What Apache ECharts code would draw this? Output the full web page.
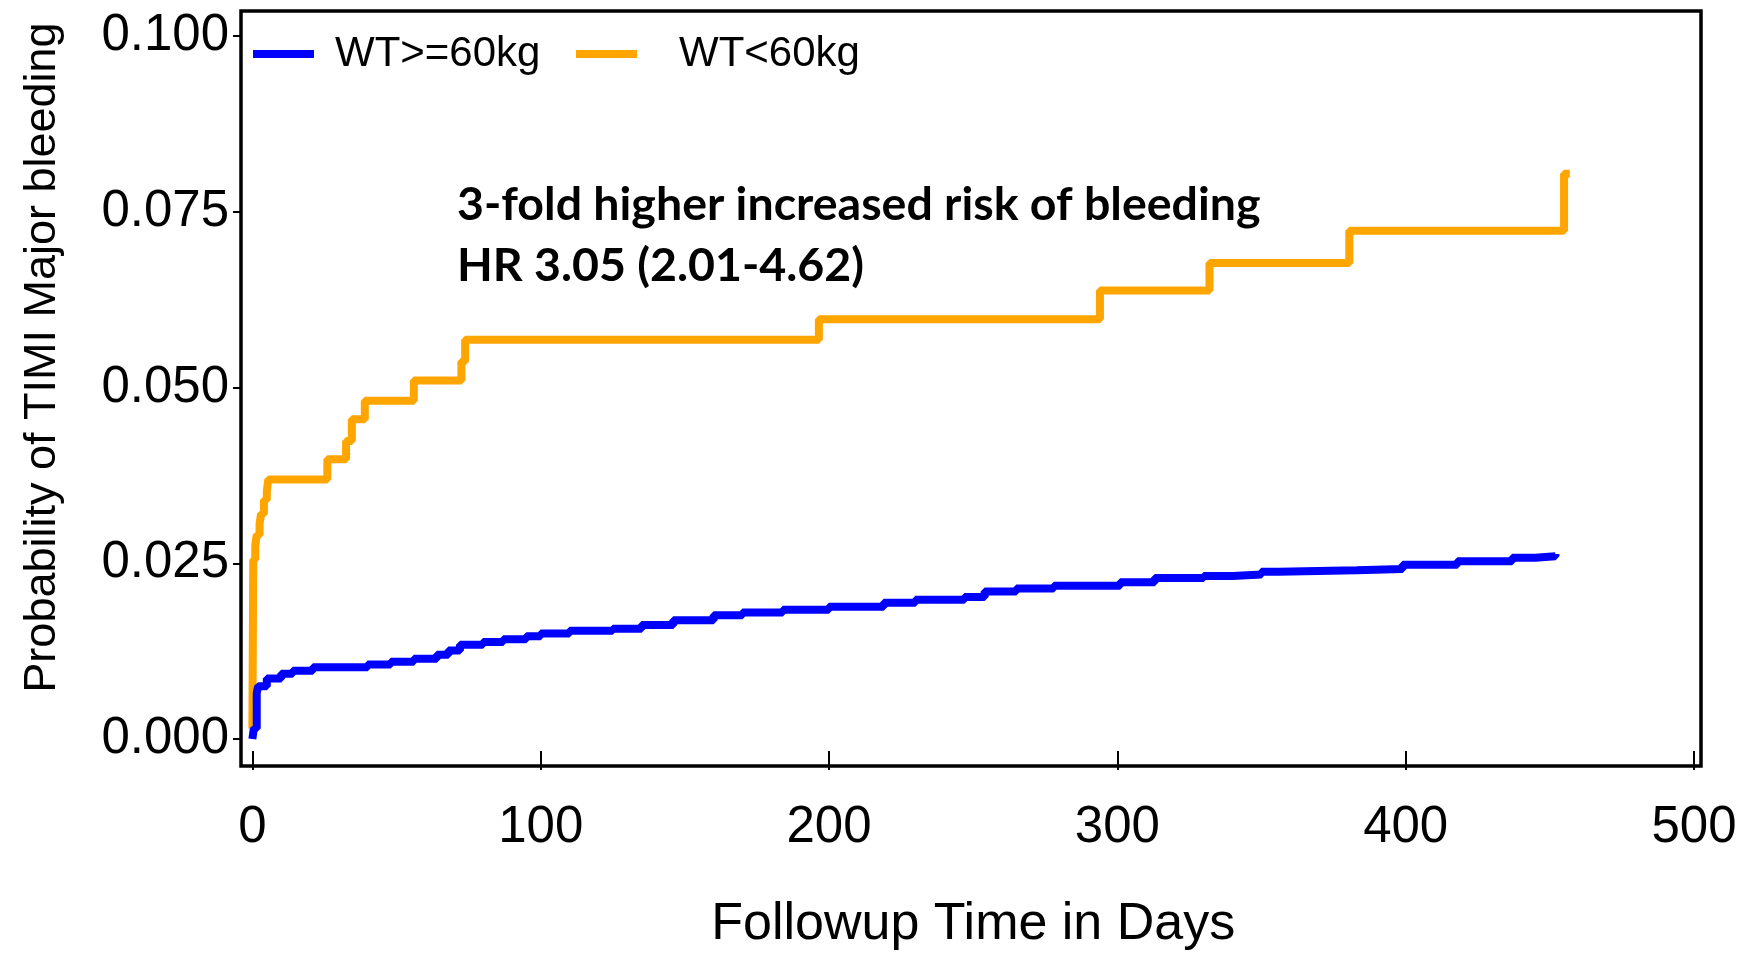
<!DOCTYPE html>
<html>
<head>
<meta charset="utf-8">
<script src="https://cdn.jsdelivr.net/npm/echarts@6/dist/echarts.min.js"></script>
<style>
html,body{margin:0;padding:0;background:#fff;}
#chart{width:1751px;height:956px;}
</style>
</head>
<body>
<div id="chart"></div>
<script>
// ---- data ----
const seriesNames = ['WT>=60kg', 'WT<60kg'];
// [day, cumulative probability] at each step
const wtHigh = [
  [0, 0.0], [0.5, 0.0015], [1.5, 0.0065], [2, 0.0075], [5, 0.0086], [10, 0.0093], [14, 0.0097],
  [21, 0.0102], [40, 0.0106], [48, 0.011], [56, 0.0114], [64, 0.012], [68, 0.0126], [72, 0.0134],
  [80, 0.0138], [87, 0.0142], [95, 0.0146], [100, 0.015], [110, 0.0154], [125, 0.0157], [135, 0.0162],
  [146, 0.0169], [160, 0.0176], [170, 0.018], [184, 0.0184], [200, 0.0188], [219, 0.0194], [230, 0.0198],
  [247, 0.0202], [254, 0.021], [265, 0.0214], [278, 0.0218], [301, 0.0223], [313, 0.0229], [330, 0.0232],
  [340, 0.0234], [350, 0.0238], [356, 0.024], [383, 0.0242], [399, 0.0248], [418, 0.0253], [437, 0.0258],
  [445, 0.026], [452, 0.0263]
];
const wtLow = [
  [0, 0.0015], [0.3, 0.0255], [1, 0.0275], [1.5, 0.029], [2.5, 0.0306], [3, 0.032], [4, 0.034],
  [5, 0.0352], [5.5, 0.0369], [26, 0.0398], [32.5, 0.0424], [34.5, 0.0455], [39, 0.0481], [56, 0.051],
  [72.5, 0.0537], [73.8, 0.0568], [196.5, 0.0597], [294, 0.0638], [332, 0.0677], [380.5, 0.0723],
  [455, 0.0804], [457, 0.0804]
];
const xTicks = [0, 100, 200, 300, 400, 500];
const yTicks = [0.000, 0.025, 0.050, 0.075, 0.100];
const xTitle = 'Followup Time in Days';
const yTitle = 'Probability of TIMI Major bleeding';
const noteLines = ['3-fold higher increased risk of bleeding', 'HR 3.05 (2.01-4.62)'];

// ---- chart ----
const chart = echarts.init(document.getElementById('chart'), null, {renderer: 'canvas'});
const FONT = '"Liberation Sans", Arial, sans-serif';
const option = {
  animation: false,
  backgroundColor: '#ffffff',
  grid: [
    {left: 241, right: 50, top: 11, bottom: 190, show: true, borderColor: '#000', borderWidth: 3.5, backgroundColor: 'transparent'},
    {left: 252.4, right: 57, top: 11, bottom: 188, show: false},
    {left: 241, right: 50, top: 36, bottom: 217, show: false}
  ],
  xAxis: [
    {gridIndex: 0, type: 'value', min: -3.95, max: 502.5, show: false},
    {gridIndex: 1, type: 'value', min: xTicks[0], max: xTicks[xTicks.length - 1], interval: 100,
     axisLine: {show: false}, splitLine: {show: false},
     axisTick: {show: true, length: 19, lineStyle: {color: '#000', width: 2}},
     axisLabel: {show: true, fontSize: 51, color: '#000', fontFamily: FONT, margin: 51},
     name: xTitle, nameLocation: 'middle', nameGap: 148,
     nameTextStyle: {fontSize: 52, color: '#000', fontFamily: FONT}},
    {gridIndex: 2, type: 'value', min: 0, max: 1, show: false}
  ],
  yAxis: [
    {gridIndex: 0, type: 'value', min: -0.00384, max: 0.10356, show: false},
    {gridIndex: 1, type: 'value', min: 0, max: 1, show: false},
    {gridIndex: 2, type: 'value', min: yTicks[0], max: yTicks[yTicks.length - 1], interval: 0.025,
     axisLine: {show: false}, splitLine: {show: false},
     axisTick: {show: true, length: 8, lineStyle: {color: '#000', width: 2}},
     axisLabel: {show: true, fontSize: 51, color: '#000', fontFamily: FONT, margin: 12,
       formatter: v => v.toFixed(3)},
     name: yTitle, nameLocation: 'middle', nameGap: 176,
     nameTextStyle: {fontSize: 45, color: '#000', fontFamily: FONT, padding: [0, 0, 0, 60]}}
  ],
  legend: [
    {data: [seriesNames[0]], left: 248, top: 28, itemWidth: 61, itemHeight: 8, icon: 'rect',
     textStyle: {fontSize: 42, color: '#000', fontFamily: FONT, padding: [0, 0, 0, 16]}},
    {data: [seriesNames[1]], left: 571, top: 28, itemWidth: 61, itemHeight: 8, icon: 'rect',
     textStyle: {fontSize: 42, color: '#000', fontFamily: FONT, padding: [0, 0, 0, 37]}}
  ],
  graphic: [
    {type: 'text', left: 457, top: 181, style: {text: noteLines[0], font: 'bold 46.5px Lato, sans-serif', fill: '#000'}},
    {type: 'text', left: 457, top: 242, style: {text: noteLines[1], font: 'bold 46.5px Lato, sans-serif', fill: '#000'}}
  ],
  series: [
    {name: seriesNames[1], type: 'line', xAxisIndex: 0, yAxisIndex: 0, step: 'end', data: wtLow,
     showSymbol: false, lineStyle: {color: '#FFA500', width: 8}, itemStyle: {color: '#FFA500'}},
    {name: seriesNames[0], type: 'line', xAxisIndex: 0, yAxisIndex: 0, step: 'end', data: wtHigh,
     showSymbol: false, lineStyle: {color: '#0000FF', width: 8}, itemStyle: {color: '#0000FF'}}
  ]
};
chart.setOption(option);
</script>
</body>
</html>
